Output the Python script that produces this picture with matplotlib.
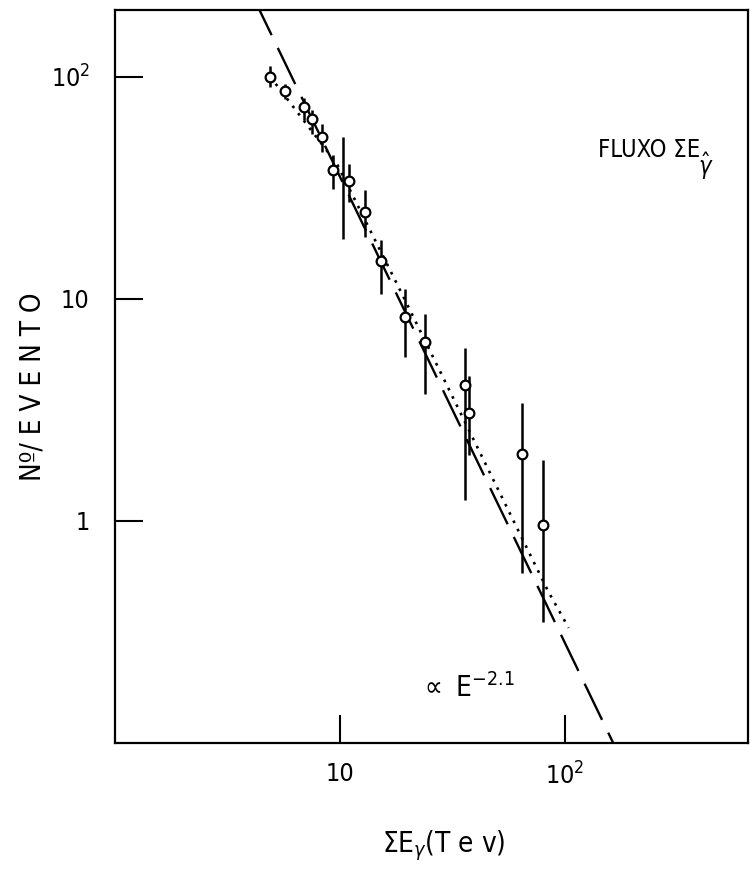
import numpy as np
import matplotlib
matplotlib.use('Agg')
import matplotlib.pyplot as plt
from matplotlib import ticker

# flux of sum E_gamma per event
energy = [4.9, 5.7, 6.9, 7.5, 8.3, 9.3, 11.0, 12.9, 15.2, 19.4, 23.8, 36.1, 37.6, 64.6, 80.0]
flux = [100, 86.5, 73, 64.6, 53.6, 38, 33.9, 24.6, 14.8, 8.25, 6.36, 4.07, 3.04, 1.99, 0.96]
flux_hi = [111, 93, 80, 71, 61.4, 44.4, 40.5, 30.9, 18.4, 11.0, 8.5, 6.0, 4.5, 3.4, 1.88]
flux_lo = [90, 79, 64, 55.3, 45.8, 31.2, 27.3, 19, 10.5, 5.44, 3.71, 1.24, 1.97, 0.58, 0.35]

# long error bar without marker near E = 10
bare_energy = [10.3]
bare_hi = [53.6]
bare_lo = [18.6]

# power law ~ E^-2.1 (dashed)
pl_norm, pl_index = 4470, -2.1

# dotted curve drawn through the points (knots)
dot_energy = [4.9, 9.7, 19.4, 84.1, 104]
dot_flux = [100, 40.5, 9.95, 0.483, 0.329]

x_ticks = [10, 100]
x_ticklabels = ['10', r'$10^2$']
y_ticks = [1, 10, 100]
y_ticklabels = ['1', '10', r'$10^2$']

plt.rcParams['font.family'] = ['DejaVu Sans']
plt.rcParams['font.stretch'] = 'condensed'

fig = plt.figure(figsize=(7.5, 8.81), dpi=100)
ax = fig.add_axes([0.153, 0.157, 0.844, 0.832])
ax.set_xscale('log')
ax.set_yscale('log')
ax.set_xlim(1, 650)
ax.set_ylim(0.1, 200)

energy = np.array(energy)
flux = np.array(flux)
yerr = [flux - np.array(flux_lo), np.array(flux_hi) - flux]
ax.errorbar(energy, flux, yerr=yerr, fmt='o', mfc='white', mec='black',
            ms=7, mew=1.6, ecolor='black', elinewidth=1.8, capsize=0, zorder=3)
ax.vlines(bare_energy, bare_lo, bare_hi, color='black', lw=1.8)

e_all = np.logspace(0, np.log10(650), 200)
ax.plot(e_all, pl_norm * e_all ** pl_index, color='black', lw=1.7,
        linestyle=(0, (17, 6)))
ax.plot(dot_energy, dot_flux, color='black', lw=1.9, linestyle=(0, (1, 2.5)))

ax.xaxis.set_major_locator(ticker.FixedLocator(x_ticks))
ax.xaxis.set_major_formatter(ticker.FixedFormatter(x_ticklabels))
ax.yaxis.set_major_locator(ticker.FixedLocator(y_ticks))
ax.yaxis.set_major_formatter(ticker.FixedFormatter(y_ticklabels))
ax.xaxis.set_minor_locator(ticker.NullLocator())
ax.yaxis.set_minor_locator(ticker.NullLocator())
ax.tick_params(axis='both', direction='in', length=20, width=1.5, labelsize=18)
ax.tick_params(axis='x', pad=14)
ax.tick_params(axis='y', pad=18)
for s in ax.spines.values():
    s.set_linewidth(1.6)

ax.text(0.763, 0.809, 'FLUXO ΣE', transform=ax.transAxes,
        fontsize=17, ha='left', va='center')
ax.text(0.922, 0.786, r'$\hat{\gamma}$', transform=ax.transAxes,
        fontsize=17, ha='left', va='center')
ax.text(0.482, 0.075, r'$\propto\ \mathrm{E}^{-2.1}$', transform=ax.transAxes,
        fontsize=20, ha='left', va='center')

fig.text(0.044, 0.561, 'Nº/ E V E N T O', rotation=90, fontsize=20,
         ha='center', va='center')
fig.text(0.592, 0.040, r'$\Sigma\mathrm{E}_{\gamma}$(T e v)', fontsize=20,
         ha='center', va='center')

fig.savefig('out.png', dpi=100)
